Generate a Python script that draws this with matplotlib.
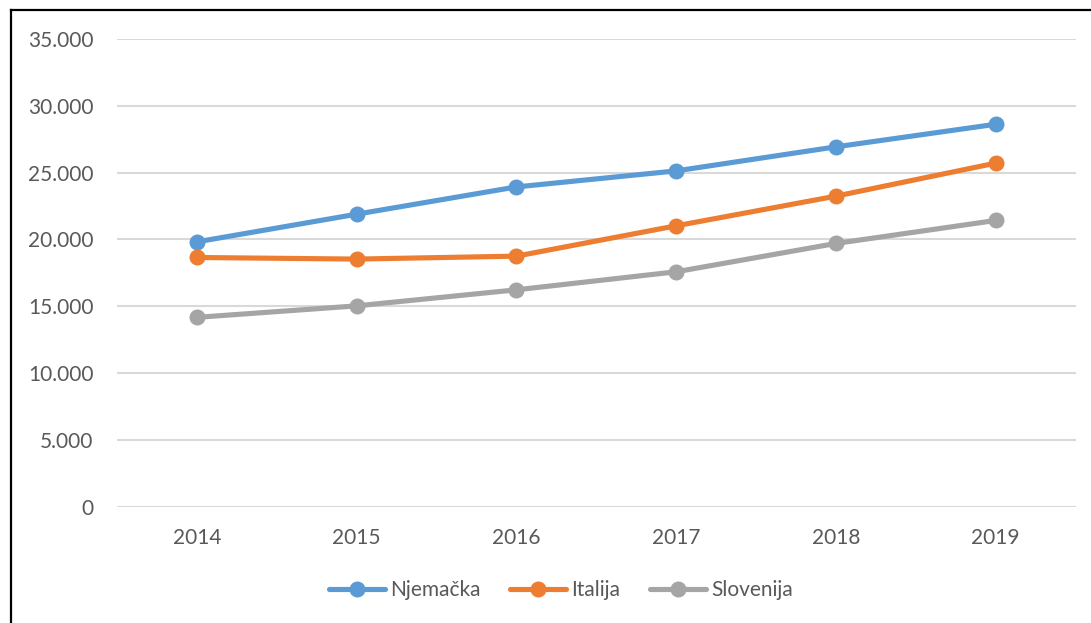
import matplotlib
matplotlib.use("Agg")
import matplotlib.pyplot as plt
from matplotlib.lines import Line2D
from matplotlib.ticker import FuncFormatter, MultipleLocator

years = ["2014", "2015", "2016", "2017", "2018", "2019"]
njemacka = [19820, 21890, 23930, 25130, 26930, 28620]
italija = [18650, 18530, 18750, 21020, 23240, 25710]
slovenija = [14170, 15030, 16230, 17580, 19700, 21420]

series = [("Njemačka", njemacka, "#5B9BD5"),
          ("Italija", italija, "#ED7D31"),
          ("Slovenija", slovenija, "#A5A5A5")]

plt.rcParams['font.family'] = ['Lato', 'DejaVu Sans']
text_color = "#595959"

fig = plt.figure(figsize=(10.91, 6.23), dpi=100)
ax = fig.add_axes([117/1091, 1-506.7/623, (1075.5-117)/1091, (506.7-39)/623])

x = list(range(len(years)))
handles = []
for name, vals, col in series:
    h, = ax.plot(x, vals, color=col, lw=3.7, marker='o', markersize=10.5,
                 solid_capstyle='round', label=name, zorder=3)
    handles.append(h)

ax.set_xlim(-0.5, len(years) - 0.5)
ax.set_ylim(0, 35000)
ax.yaxis.set_major_locator(MultipleLocator(5000))
ax.yaxis.set_major_formatter(FuncFormatter(lambda v, p: f"{int(v):,}".replace(",", ".")))
ax.set_xticks(x)
ax.set_xticklabels(years)
ax.grid(axis='y', color='#D9D9D9', lw=1.5, zorder=0)
ax.set_axisbelow(True)
for s in ax.spines.values():
    s.set_visible(False)
ax.tick_params(axis='y', length=0, pad=17, labelsize=15, labelcolor=text_color)
ax.tick_params(axis='x', length=0, pad=15, labelsize=15, labelcolor=text_color)

leg = fig.legend(handles=handles, loc='center', bbox_to_anchor=(561/1091, 1-590/623),
                 ncol=3, frameon=False, fontsize=15, handlelength=2.7,
                 handletextpad=0.25, columnspacing=1.4, labelcolor=text_color)

# outer frame (left and top edges)
fig.add_artist(Line2D([10.5/1091, 10.5/1091], [0, 1-9.5/623], transform=fig.transFigure,
                      color='black', lw=1.6))
fig.add_artist(Line2D([10.5/1091, 1], [1-9.5/623, 1-9.5/623], transform=fig.transFigure,
                      color='black', lw=1.6))

fig.savefig("out.png", dpi=100)
